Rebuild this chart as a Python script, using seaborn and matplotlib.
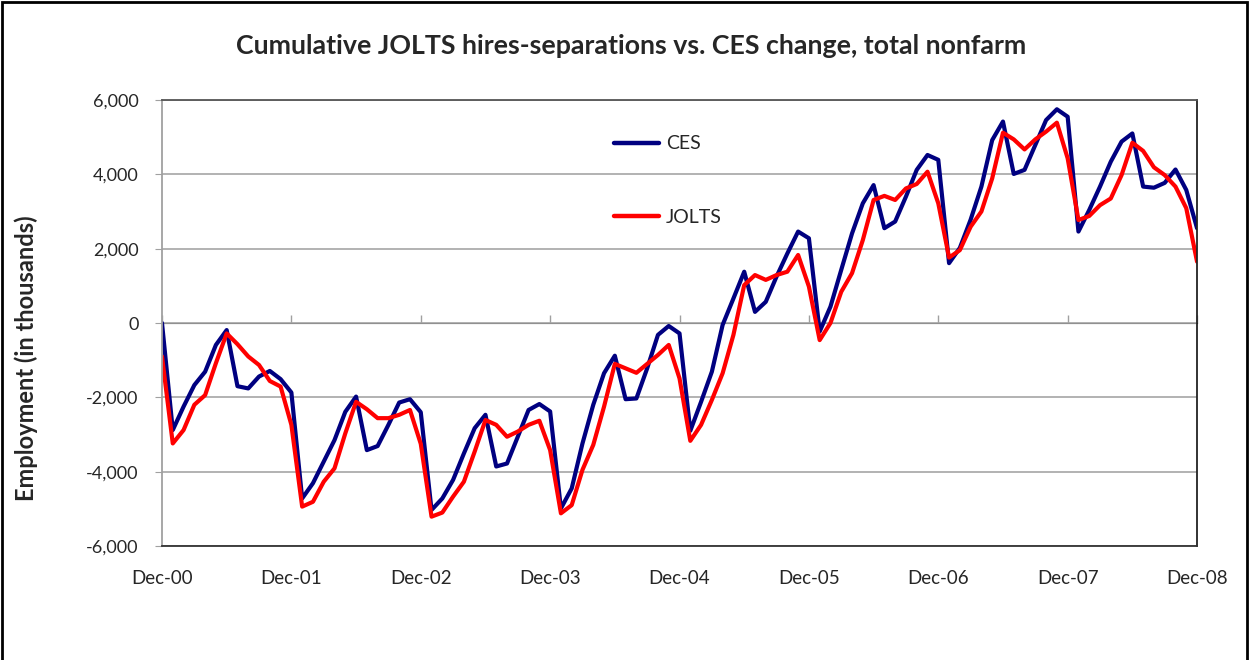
import numpy as np
import pandas as pd
import matplotlib
matplotlib.use("Agg")
import matplotlib.pyplot as plt
import seaborn as sns
from matplotlib.patches import Rectangle

# ----- data (thousands, monthly Dec-00 .. Dec-08) -----
ces = [
    0, -2880, -2250, -1670, -1310, -590, -190, -1700, -1760, -1440, -1290, -1510,
    -1870, -4720, -4310, -3730, -3150, -2390, -1980, -3420, -3310, -2740, -2140, -2050,
    -2400, -5030, -4720, -4220, -3510, -2830, -2470, -3860, -3780, -3060, -2340, -2180,
    -2380, -4990, -4450, -3240, -2200, -1350, -880, -2050, -2030, -1220, -320, -80,
    -280, -2900, -2120, -1310, -50, 660, 1380, 300, 570, 1250, 1870, 2460,
    2280, -230, 440, 1430, 2410, 3220, 3710, 2550, 2730, 3400, 4120, 4520,
    4390, 1610, 2020, 2780, 3670, 4920, 5420, 4010, 4120, 4790, 5460, 5750,
    5550, 2460, 3040, 3670, 4340, 4880, 5100, 3670, 3640, 3770, 4130, 3580,
    2550,
]
jolts = [
    -900, -3240, -2880, -2200, -1940, -1080, -280, -570, -900, -1130, -1560, -1710,
    -2740, -4940, -4810, -4270, -3910, -2970, -2120, -2320, -2560, -2560, -2470, -2340,
    -3250, -5210, -5100, -4670, -4270, -3460, -2610, -2740, -3060, -2920, -2740, -2630,
    -3420, -5120, -4900, -3950, -3280, -2250, -1100, -1220, -1340, -1100, -860, -590,
    -1490, -3170, -2740, -2070, -1350, -320, 1020, 1290, 1160, 1290, 1380, 1830,
    980, -460, 0, 840, 1340, 2230, 3310, 3420, 3310, 3620, 3740, 4070,
    3220, 1760, 1960, 2590, 3000, 3890, 5120, 4940, 4670, 4940, 5150, 5390,
    4430, 2770, 2880, 3170, 3350, 3980, 4850, 4630, 4190, 3980, 3670, 3090,
    1650,
]
tick_labels = ["Dec-00", "Dec-01", "Dec-02", "Dec-03", "Dec-04",
               "Dec-05", "Dec-06", "Dec-07", "Dec-08"]

months = np.arange(len(ces))
df = pd.DataFrame({
    "month": np.concatenate([months, months]),
    "value": ces + jolts,
    "series": ["CES"] * len(ces) + ["JOLTS"] * len(jolts),
})

sns.set_style("white")
plt.rcParams["font.family"] = ["Lato", "DejaVu Sans"]

fig = plt.figure(figsize=(12.49, 6.60), dpi=100)
ax = fig.add_axes([0.1297, 0.1727, 0.8287, 0.6758])

sns.lineplot(data=df, x="month", y="value", hue="series",
             palette={"CES": "#000080", "JOLTS": "#ff0000"},
             linewidth=3.0, ax=ax)

ax.set_xlim(0, len(ces) - 1)
ax.set_ylim(-6000, 6000)
ax.set_yticks(np.arange(-6000, 6001, 2000))
ax.set_yticklabels([f"{v:,}" for v in range(-6000, 6001, 2000)], fontsize=13)
ax.set_xticks(np.arange(0, len(ces), 12))
ax.set_xticklabels(tick_labels, fontsize=13.5)
ax.tick_params(axis="x", length=0, pad=17)
ax.tick_params(axis="y", length=5, color="#a0a0a0", direction="out", left=True, pad=12)
ax.grid(axis="y", color="#a6a6a6", linewidth=1.2)
ax.set_axisbelow(True)
ax.set_xlabel("")
ax.set_ylabel("Employment (in thousands)", fontsize=17, fontweight="bold")
ax.yaxis.set_label_coords(-0.12, 0.42)

# category axis crossing at zero with year tick marks
sec = ax.secondary_xaxis(0.5)
sec.set_xticks(np.arange(0, len(ces), 12))
sec.set_xticklabels([])
sec.tick_params(length=6, color="#a0a0a0", width=1)
sec.spines["bottom"].set_visible(False)

for side, col in [("top", "#555555"), ("bottom", "#333333"),
                  ("right", "#222222"), ("left", "#a0a0a0")]:
    ax.spines[side].set_color(col)
    ax.spines[side].set_linewidth(1.3)

fig.text(0.505, 0.93, "Cumulative JOLTS hires-separations vs. CES change, total nonfarm",
         fontsize=19.3, fontweight="bold", ha="center", va="center")

leg = ax.legend(loc="upper left", bbox_to_anchor=(0.42, 0.96), frameon=False,
                fontsize=14, handlelength=2.3, handletextpad=0.35, labelspacing=2.9)
for line in leg.get_lines():
    line.set_linewidth(3.2)

# outer chart border
fig.patches.append(Rectangle((0.002, -0.01), 0.996, 1.007, transform=fig.transFigure,
                             fill=False, edgecolor="black", linewidth=2))

fig.savefig("out.png", dpi=100)
